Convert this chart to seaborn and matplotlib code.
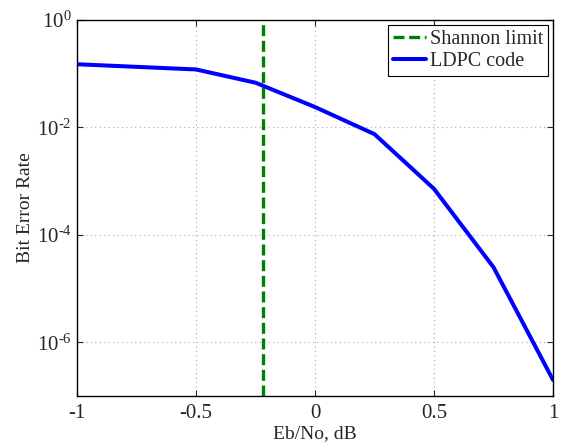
import numpy as np
import pandas as pd
import matplotlib
matplotlib.use('Agg')
import matplotlib.pyplot as plt
import matplotlib.ticker as mticker
import seaborn as sns

sns.set_style("ticks")
plt.rcParams['font.family'] = ['Liberation Serif', 'DejaVu Serif']
plt.rcParams['mathtext.fontset'] = 'custom'
plt.rcParams['mathtext.rm'] = 'Liberation Serif'
plt.rcParams['mathtext.it'] = 'Liberation Serif:italic'

# data
ebno = [-1.0, -0.5, -0.25, 0.0, 0.25, 0.5, 0.75, 1.0]
ber = [0.15, 0.12, 0.068, 0.024, 0.0075, 7.2e-4, 2.5e-5, 2.0e-7]
shannon_limit = -0.22
ytick_exp = [-6, -4, -2, 0]

df = pd.DataFrame({'Eb/No': ebno, 'BER': ber})

fig = plt.figure(figsize=(5.66, 4.44), dpi=100)
ax = fig.add_axes([0.136, 0.108, 0.841, 0.847])

ax.axvline(shannon_limit, color='#008000', linestyle=(0, (3.3, 1.4)), linewidth=2.4,
           label='Shannon limit')
sns.lineplot(data=df, x='Eb/No', y='BER', color='#0000FF', linewidth=2.9,
             label='LDPC code', ax=ax)

ax.set_yscale('log')
ax.set_xlim(-1, 1)
ax.set_ylim(1e-7, 1)
ax.set_xticks([-1, -0.5, 0, 0.5, 1])
ax.set_xticklabels(['-1', '-0.5', '0', '0.5', '1'])
ax.set_yticks([10.0 ** e for e in ytick_exp])
ax.set_yticklabels([r'$10^{\text{%d}}$' % e for e in ytick_exp])
ax.yaxis.set_minor_locator(mticker.NullLocator())

ax.grid(True, linestyle=(0, (1, 3)), color='#aaaaaa', linewidth=0.8)
ax.tick_params(direction='in', top=True, right=True, labelsize=15, length=4, width=0.8,
               pad=6)
ax.tick_params(axis='y', pad=4)
for s in ax.spines.values():
    s.set_color('black')
    s.set_linewidth(1.0)

ax.set_xlabel('Eb/No, dB', fontsize=14, labelpad=1)
ax.set_ylabel('Bit Error Rate', fontsize=14, labelpad=2)

leg = ax.legend(loc='upper right', fontsize=14.5, fancybox=False, framealpha=1,
                edgecolor='black', handlelength=1.6, handletextpad=0.2,
                borderpad=0.25, labelspacing=0.15, borderaxespad=0.25)
leg.get_frame().set_linewidth(0.8)

fig.savefig('out.png', dpi=100)
